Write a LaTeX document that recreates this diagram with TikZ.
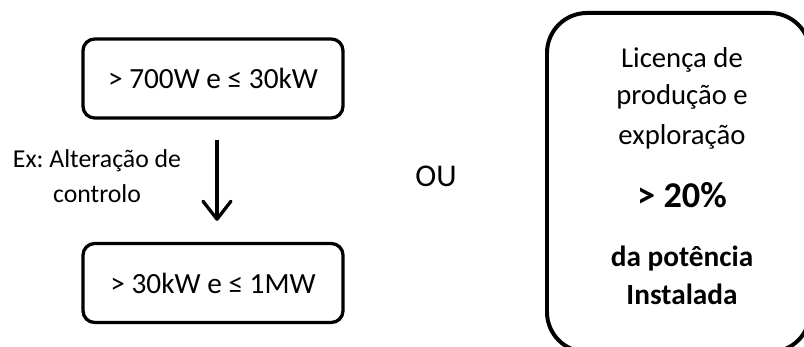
\documentclass[tikz,border=0pt]{standalone}
\usepackage{fontspec}
\setmainfont{Carlito}
\usetikzlibrary{arrows.meta,positioning}
\frenchspacing

\begin{document}
\begin{tikzpicture}[x=0.03cm, y=-0.03cm, line width=2.8pt,
  >={Straight Barb[round, length=5.4mm, width=8.4mm]},
  bx/.style={draw, rounded corners=10pt, minimum width=7.8cm, minimum height=2.37cm, inner sep=0pt, font=\fontsize{25}{30}\selectfont},
  lb/.style={font=\fontsize{22}{30}\selectfont, align=center, inner sep=0pt},
  tx/.style={font=\fontsize{24.5}{29}\selectfont, inner sep=0pt, anchor=base},
  tb/.style={font=\fontsize{25}{30}\selectfont\bfseries, inner sep=0pt, anchor=base}]
  \clip (0,0) rectangle (804,347);
  \node[bx] (low) at (213,78.5) {> 700W e ≤ 30kW};
  \node[bx] (mid) at (213,283) {> 30kW e ≤ 1MW};
  \draw[->, shorten <=0.6cm, shorten >=0.63cm] ([xshift=3.4pt]low.south) -- ([xshift=3.4pt]mid.north);
  \node[lb] (ex) at (97,176) {Ex: Alteração de\\controlo};
  \node[tx, font=\fontsize{27}{32}\selectfont] (ou) at (436,187) {OU};
  % licence box, runs off the page on the right and at the bottom
  \node[draw, line width=3.4pt, rounded corners=1.2cm, minimum width=7.89cm, minimum height=10.17cm] (lic) at (678.5,182.5) {};
  \node[tx] (l1) at (682,68) {Licença de};
  \node[tx] (l2) at (682,105) {produção e};
  \node[tx] (l3) at (682,145) {exploração};
  \node[tb, font=\fontsize{31}{36}\selectfont\bfseries] (pc) at (682,208) {> 20\%};
  \node[tb] (l4) at (682,267) {da potência};
  \node[tb] (l5) at (682,305) {Instalada};
\end{tikzpicture}
\end{document}
